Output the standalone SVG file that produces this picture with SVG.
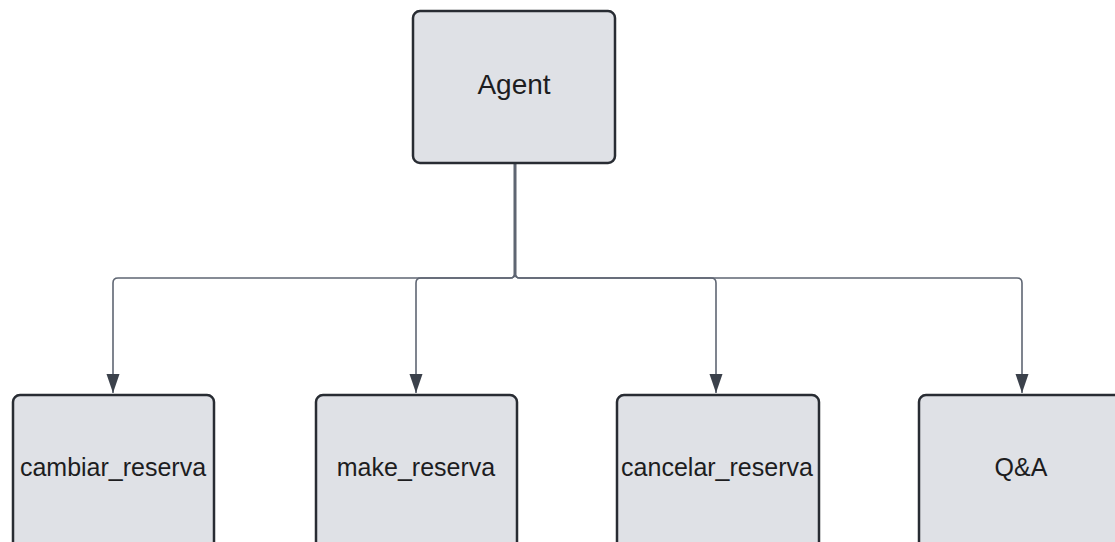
<svg xmlns="http://www.w3.org/2000/svg" width="1115" height="542" viewBox="0 0 1115 542">
  <style>
    .box { fill: #dfe1e6; stroke: #282c33; stroke-width: 2.5; }
    .label { font-family: "Liberation Sans", Arial, sans-serif; fill: #1d1d1f; text-anchor: middle; }
    .edge { fill: none; stroke: #5f6673; stroke-width: 1.6; }
    .trunk { fill: none; stroke: #5a606b; stroke-width: 3; }
  </style>
  <defs>
    <!-- filled triangular head, tip sits on the end of the line -->
    <marker id="arrow" markerUnits="userSpaceOnUse" markerWidth="20" markerHeight="14" viewBox="0 0 20 14" refX="19" refY="7" orient="auto">
      <path d="M0,0.5 L19,7 L0,13.5 Z" fill="#3b414b"/>
    </marker>
  </defs>
  <rect width="1115" height="542" fill="#ffffff"/>

  <!-- connectors: trunk from Agent splitting into a bus that feeds each tool -->
  <g id="connectors">
    <path class="trunk" d="M515,163 V276"/>
    <path class="edge" d="M515,163 V273 Q515,278 510,278 H118 Q113,278 113,283 V393" marker-end="url(#arrow)"/>
    <path class="edge" d="M515,163 V273 Q515,278 510,278 H421 Q416,278 416,283 V393" marker-end="url(#arrow)"/>
    <path class="edge" d="M515,163 V273 Q515,278 520,278 H711 Q716,278 716,283 V393" marker-end="url(#arrow)"/>
    <path class="edge" d="M515,163 V273 Q515,278 520,278 H1017 Q1022,278 1022,283 V393" marker-end="url(#arrow)"/>
  </g>

  <g id="agent">
    <rect class="box" x="413" y="11" width="202" height="152" rx="7"/>
    <text class="label" x="514" y="94" font-size="28">Agent</text>
  </g>

  <g id="cambiar_reserva">
    <rect class="box" x="13" y="395" width="201" height="170" rx="7"/>
    <text class="label" x="113" y="476" font-size="25">cambiar_reserva</text>
  </g>

  <g id="make_reserva">
    <rect class="box" x="316" y="395" width="201" height="170" rx="7"/>
    <text class="label" x="416" y="476" font-size="25">make_reserva</text>
  </g>

  <g id="cancelar_reserva">
    <rect class="box" x="617" y="395" width="202" height="170" rx="7"/>
    <text class="label" x="717" y="476" font-size="25">cancelar_reserva</text>
  </g>

  <g id="qa">
    <rect class="box" x="919" y="395" width="202" height="170" rx="7"/>
    <text class="label" x="1021" y="476" font-size="25">Q&amp;A</text>
  </g>
</svg>
